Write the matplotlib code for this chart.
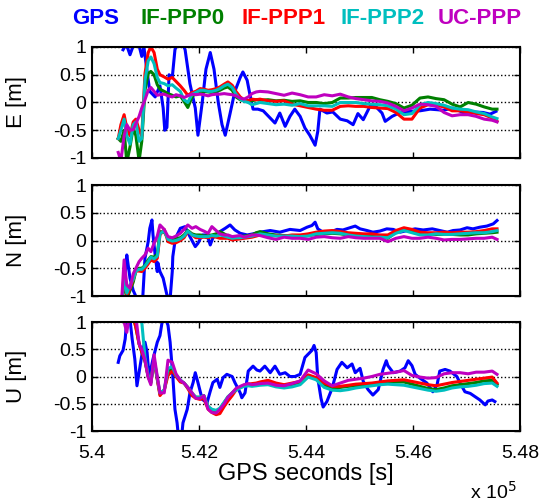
import matplotlib
matplotlib.use("Agg")
import matplotlib.pyplot as plt

plt.rcParams['font.family'] = ['Liberation Sans', 'DejaVu Sans']

# common epochs of the PPP solutions [s]
t_ppp = [540490, 540540, 540600, 540650, 540710, 540770, 540820, 540880, 540930, 540990,
         541050, 541100, 541160, 541220, 541270, 541350, 541420, 541500, 541570, 541650,
         541720, 541790, 541870, 541940, 542020, 542090, 542170, 542240, 542320, 542390,
         542470, 542540, 542620, 542690, 542770, 542840, 542920, 542990, 543070, 543140,
         543290, 543440, 543590, 543740, 543890, 544040, 544190, 544340, 544490, 544640,
         544790, 544930, 545080, 545230, 545380, 545530, 545680, 545830, 545980, 546130,
         546280, 546430, 546580, 546730, 546880, 547030, 547180, 547330, 547480, 547570]

# ---- East ----
e_ppp0 = [-0.65, -0.7, -0.5, -1.08, -0.8, -0.45, -0.6, -1.05, -0.7, 0.22,
          0.52, 0.56, 0.5, 0.32, 0.24, 0.2, 0.16, 0.13, 0.1, 0.12,
          0.02, -0.09, 0.1, 0.18, 0.2, 0.2, 0.19, 0.18, 0.2, 0.22,
          0.26, 0.28, 0.22, 0.1, 0.05, 0.03, 0.03, 0.03, 0.05, 0.04,
          0.05, 0.03, 0.04, 0.02, 0.03, 0.0, 0.0, -0.02, 0.0, 0.08,
          0.08, 0.09, 0.09, 0.09, 0.05, 0.02, -0.02, -0.1, -0.05, 0.08,
          0.1, 0.07, 0.05, -0.03, -0.08, 0.0, -0.03, -0.08, -0.12, -0.12]
e_ppp1 = [-0.65, -0.4, -0.22, -0.46, -0.6, -0.35, -0.3, -0.5, -0.6, 0.52,
          0.9, 1.0, 0.9, 0.6, 0.5, 0.46, 0.42, 0.45, 0.38, 0.3,
          0.22, 0.13, 0.18, 0.2, 0.25, 0.24, 0.22, 0.23, 0.25, 0.28,
          0.33, 0.37, 0.31, 0.2, 0.1, 0.05, 0.03, 0.06, 0.05, 0.06,
          0.03, 0.02, 0.03, -0.03, -0.06, -0.09, -0.12, -0.14, -0.14, -0.07,
          -0.06, -0.07, -0.07, -0.09, -0.1, -0.11, -0.18, -0.3, -0.3, -0.1,
          -0.04, -0.05, -0.08, -0.15, -0.15, -0.17, -0.2, -0.22, -0.28, -0.34]
e_ppp2 = [-0.65, -0.5, -0.3, -0.6, -0.75, -0.4, -0.35, -0.7, -0.65, 0.4,
          0.75, 0.82, 0.7, 0.45, 0.36, 0.34, 0.3, 0.32, 0.26, 0.2,
          0.05, 0.0, 0.15, 0.18, 0.22, 0.22, 0.2, 0.2, 0.22, 0.25,
          0.3, 0.33, 0.27, 0.15, 0.06, 0.02, 0.0, -0.04, -0.02, 0.0,
          -0.02, -0.04, -0.03, -0.05, -0.02, -0.06, -0.06, -0.06, -0.07, 0.0,
          0.0, 0.0, -0.02, -0.03, -0.04, -0.06, -0.12, -0.22, -0.2, -0.04,
          0.0, -0.02, -0.05, -0.1, -0.12, -0.13, -0.17, -0.2, -0.26, -0.29]
e_ucppp = [-0.9, -1.05, -0.6, -0.4, -0.5, -0.49, -0.38, -0.25, -0.1, 0.05,
           0.22, 0.27, 0.2, 0.13, 0.14, 0.15, 0.12, 0.1, 0.14, 0.12,
           0.09, 0.12, 0.15, 0.14, 0.15, 0.14, 0.12, 0.14, 0.15, 0.15,
           0.16, 0.15, 0.14, 0.12, 0.08, 0.06, 0.1, 0.16, 0.19, 0.2,
           0.19, 0.16, 0.13, 0.17, 0.14, 0.1, 0.1, 0.14, 0.12, 0.15,
           0.1, 0.07, 0.05, 0.03, 0.02, -0.01, -0.07, -0.15, -0.1, -0.03,
           -0.04, -0.07, -0.18, -0.24, -0.22, -0.22, -0.25, -0.3, -0.32, -0.35]

t_gps_e = [540580, 540640, 540710, 540770, 540860, 540930, 540970, 541030, 541080, 541180,
           541270, 541330, 541360, 541400, 541440, 541500, 541550, 541610, 541680, 541740,
           541830, 541930, 541980, 542060, 542130, 542210, 542280, 542360, 542430, 542490,
           542580, 542670, 542770, 542820, 542900, 542950, 543010, 543100, 543200, 543330,
           543420, 543510, 543610, 543700, 543790, 543890, 543980, 544070, 544170, 544220,
           544260, 544390, 544500, 544640, 544770, 544880, 544970, 545070, 545200, 545290,
           545420, 545480, 545610, 545760, 545940, 546130, 546320, 546450, 546560, 546750,
           546930, 547120, 547310, 547440, 547550]
e_gps = [0.95, 1.05, 0.86, 1.02, 1.1, 0.83, 1.0, 0.55, 0.2, 0.1,
         0.3, -0.1, -0.5, -0.45, 0.5, 0.45, 0.95, 1.1, 1.1, 0.95,
         0.34, -0.1, -0.59, 0.0, 0.6, 0.9, 0.6, 0.0, -0.4, -0.59,
         -0.2, 0.2, 0.45, 0.55, 0.4, 0.15, -0.12, -0.12, -0.15, -0.28,
         -0.37, -0.19, -0.43, -0.25, -0.12, -0.25, -0.46, -0.59, -0.77, -0.52,
         -0.12, -0.19, -0.17, -0.3, -0.33, -0.4, -0.2, -0.31, -0.06, -0.06,
         -0.19, -0.34, -0.25, -0.18, -0.16, -0.15, -0.12, -0.13, -0.14, -0.1,
         -0.18, -0.17, -0.18, -0.21, -0.16]

# ---- North ----
n_ppp0 = [-1.3, -1.3, -0.7, -1.05, -0.9, -0.75, -0.55, -0.5, -0.5, -0.45,
          -0.35, -0.29, -0.3, -0.25, 0.16, 0.15, 0.05, 0.02, 0.03, 0.05,
          0.1, 0.18, 0.12, 0.1, 0.1, 0.08, 0.09, 0.1, 0.12, 0.16,
          0.12, 0.08, 0.07, 0.07, 0.07, 0.08, 0.09, 0.1, 0.14, 0.16,
          0.12, 0.1, 0.09, 0.08, 0.07, 0.09, 0.11, 0.12, 0.13, 0.12,
          0.1, 0.1, 0.1, 0.09, 0.08, 0.04, 0.15, 0.2, 0.16, 0.13,
          0.12, 0.11, 0.11, 0.11, 0.1, 0.1, 0.12, 0.13, 0.14, 0.15]
n_ppp1 = [-1.3, -1.3, -0.6, -1.0, -0.86, -0.7, -0.55, -0.55, -0.56, -0.5,
          -0.42, -0.35, -0.38, -0.32, 0.1, 0.2, -0.02, -0.05, -0.04, 0.0,
          0.05, 0.16, 0.1, 0.05, 0.05, 0.06, 0.05, 0.07, 0.06, 0.04,
          0.04, 0.04, 0.01, 0.02, 0.03, 0.04, 0.05, 0.06, 0.08, 0.1,
          0.09, 0.09, 0.08, 0.1, 0.1, 0.12, 0.15, 0.17, 0.18, 0.16,
          0.14, 0.13, 0.12, 0.12, 0.1, 0.1, 0.18, 0.23, 0.2, 0.15,
          0.14, 0.14, 0.15, 0.14, 0.15, 0.15, 0.16, 0.18, 0.21, 0.21]
n_ppp2 = [-1.3, -1.3, -0.65, -0.95, -0.8, -0.7, -0.55, -0.52, -0.52, -0.46,
          -0.38, -0.3, -0.33, -0.28, 0.12, 0.18, 0.02, -0.01, 0.0, 0.03,
          0.08, 0.17, 0.1, 0.08, 0.07, 0.07, 0.07, 0.09, 0.08, 0.1,
          0.08, 0.06, 0.04, 0.05, 0.05, 0.06, 0.07, 0.08, 0.1, 0.12,
          0.1, 0.08, 0.08, 0.08, 0.07, 0.08, 0.12, 0.13, 0.14, 0.13,
          0.1, 0.08, 0.07, 0.06, 0.06, 0.05, 0.13, 0.18, 0.14, 0.1,
          0.1, 0.12, 0.11, 0.11, 0.12, 0.13, 0.14, 0.14, 0.16, 0.18]
n_ucppp = [-1.3, -1.3, -0.35, -0.8, -0.86, -0.6, -0.5, -0.38, -0.32, -0.26,
           -0.14, -0.2, -0.05, 0.08, 0.28, 0.2, 0.07, 0.05, 0.08, 0.13,
           0.2, 0.28, 0.22, 0.25, 0.2, 0.17, 0.13, 0.25, 0.18, 0.12,
           0.1, 0.1, 0.07, 0.08, 0.09, 0.06, 0.08, 0.1, 0.1, 0.09,
           0.05, 0.02, 0.06, 0.04, 0.04, 0.02, 0.06, 0.07, 0.05, 0.04,
           0.07, 0.05, 0.04, 0.04, 0.04, -0.02, 0.04, 0.07, 0.04, 0.04,
           0.06, 0.04, 0.01, 0.02, 0.02, 0.03, 0.04, 0.04, 0.06, 0.02]

t_gps_n = [540620, 540650, 540670, 540710, 540770, 540840, 540900, 540950, 540990, 541050,
           541080, 541120, 541140, 541180, 541220, 541230, 541270, 541330, 541400, 541460,
           541500, 541510, 541550, 541590, 541650, 541740, 541830, 541930, 541980, 542060,
           542150, 542210, 542260, 542390, 542490, 542580, 542670, 542770, 542900, 543010,
           543140, 543330, 543510, 543700, 543890, 544020, 544110, 544170, 544220, 544320,
           544450, 544580, 544690, 544820, 544920, 545010, 545140, 545250, 545380, 545510,
           545630, 545760, 545890, 546040, 546190, 546360, 546500, 546640, 546750, 546880,
           547010, 547120, 547250, 547380, 547500, 547570]
n_gps = [-0.6, -0.26, -0.4, -0.68, -0.9, -1.05, -1.05, -1.0, -0.32, -0.02,
         0.22, 0.37, 0.1, -0.26, -0.56, -0.4, -0.56, -0.68, -0.98, -1.05,
         -0.56, -0.29, -0.02, 0.1, 0.22, 0.25, 0.07, -0.11, -0.05, 0.1,
         0.1, -0.08, 0.05, 0.16, 0.22, 0.28, 0.19, 0.13, 0.1, 0.12,
         0.15, 0.18, 0.15, 0.2, 0.18, 0.24, 0.27, 0.33, 0.21, 0.15,
         0.15, 0.2, 0.19, 0.23, 0.26, 0.21, 0.18, 0.15, 0.17, 0.21,
         0.2, 0.15, 0.18, 0.21, 0.19, 0.21, 0.18, 0.15, 0.18, 0.19,
         0.23, 0.21, 0.24, 0.26, 0.3, 0.36]

# ---- Up ----
u_ppp0 = [1.3, 1.3, 1.2, 1.1, 1.2, 1.1, 0.9, 0.6, 0.45, 0.28,
          0.0, -0.12, 0.3, -0.05, -0.32, -0.25, 0.1, 0.15, 0.02, -0.08,
          -0.12, -0.2, -0.32, -0.38, -0.38, -0.35, -0.55, -0.62, -0.64, -0.6,
          -0.48, -0.38, -0.3, -0.24, -0.2, -0.17, -0.15, -0.16, -0.15, -0.14,
          -0.12, -0.17, -0.19, -0.16, -0.12, 0.02, -0.04, -0.15, -0.21, -0.2,
          -0.18, -0.17, -0.16, -0.14, -0.12, -0.1, -0.1, -0.1, -0.14, -0.18,
          -0.22, -0.24, -0.21, -0.17, -0.15, -0.13, -0.11, -0.08, -0.07, -0.15]
u_ppp1 = [1.3, 1.3, 1.2, 1.1, 1.2, 1.1, 0.9, 0.6, 0.45, 0.3,
          0.0, -0.1, 0.3, -0.05, -0.35, -0.25, 0.02, 0.1, 0.0, -0.1,
          -0.12, -0.22, -0.35, -0.4, -0.42, -0.4, -0.6, -0.66, -0.7, -0.68,
          -0.55, -0.45, -0.35, -0.25, -0.2, -0.16, -0.14, -0.13, -0.12, -0.1,
          -0.07, -0.12, -0.15, -0.12, -0.09, 0.03, -0.02, -0.12, -0.18, -0.18,
          -0.16, -0.14, -0.13, -0.12, -0.1, -0.08, -0.07, -0.06, -0.09, -0.12,
          -0.15, -0.17, -0.14, -0.11, -0.09, -0.07, -0.05, -0.03, -0.01, -0.12]
u_ppp2 = [1.3, 1.3, 1.2, 1.1, 1.2, 1.15, 1.0, 1.05, 1.0, 0.35,
          0.02, -0.1, 0.32, -0.02, -0.3, -0.25, 0.15, 0.18, 0.03, -0.06,
          -0.12, -0.2, -0.3, -0.38, -0.38, -0.35, -0.55, -0.6, -0.62, -0.58,
          -0.47, -0.37, -0.3, -0.25, -0.21, -0.18, -0.17, -0.18, -0.17, -0.16,
          -0.15, -0.19, -0.21, -0.19, -0.15, -0.01, -0.06, -0.2, -0.25, -0.26,
          -0.24, -0.21, -0.19, -0.17, -0.15, -0.14, -0.15, -0.16, -0.19, -0.22,
          -0.25, -0.27, -0.25, -0.21, -0.19, -0.18, -0.16, -0.13, -0.12, -0.18]
u_ucppp = [1.3, 1.3, 1.0, 0.81, 1.2, 1.2, 1.1, 0.6, 0.5, 0.3,
           -0.02, -0.15, 0.4, 0.0, -0.3, -0.3, 0.3, 0.26, 0.05, -0.07,
           -0.12, -0.2, -0.3, -0.4, -0.4, -0.35, -0.6, -0.66, -0.67, -0.6,
           -0.5, -0.38, -0.3, -0.22, -0.18, -0.15, -0.13, -0.15, -0.14, -0.13,
           -0.12, -0.16, -0.17, -0.13, -0.08, 0.12, 0.05, -0.08, -0.17, -0.12,
           -0.07, -0.05, -0.03, 0.0, 0.04, 0.06, 0.08, 0.11, 0.02, -0.01,
           -0.03, -0.02, 0.05, 0.07, 0.07, 0.05, 0.08, 0.08, 0.1, 0.04]

t_gps_u = [540490, 540520, 540580, 540620, 540650, 540710, 540750, 540800, 540840, 540900,
           540950, 540990, 541030, 541050, 541080, 541140, 541220, 541270, 541310, 541360,
           541420, 541460, 541510, 541550, 541590, 541610, 541680, 541700, 541780, 541830,
           541890, 541930, 541980, 542060, 542150, 542210, 542260, 542340, 542390, 542450,
           542520, 542620, 542670, 542770, 542800, 542860, 542920, 543010, 543080, 543140,
           543230, 543330, 543420, 543510, 543610, 543700, 543790, 543890, 543980, 544040,
           544110, 544150, 544190, 544220, 544280, 544320, 544390, 544490, 544580, 544670,
           544770, 544860, 544920, 545010, 545070, 545160, 545250, 545350, 545440, 545500,
           545530, 545630, 545760, 545850, 545910, 545980, 546040, 546130, 546260, 546370,
           546450, 546500, 546600, 546690, 546820, 546880, 546970, 547070, 547160, 547250,
           547350, 547400, 547480, 547530]
u_gps = [0.26, 0.38, 0.48, 0.69, 1.05, 1.05, 0.69, 0.32, -0.17, 0.2,
         0.51, 0.63, 0.44, 0.2, 0.05, 0.32, 0.63, 0.75, 1.0, 1.1,
         0.94, 0.63, 0.01, -0.6, -0.85, -1.05, -1.05, -0.85, -0.6, -0.3,
         -0.11, 0.07, -0.11, -0.42, -0.48, -0.27, -0.11, -0.05, -0.2, -0.02,
         0.04, 0.0, -0.11, -0.3, -0.39, -0.3, 0.1, 0.19, 0.12, 0.1,
         0.19, 0.07, 0.19, 0.04, 0.07, 0.0, 0.0, 0.04, 0.35, 0.41,
         0.48, 0.57, 0.44, -0.03, -0.4, -0.56, -0.46, -0.21, 0.13, 0.26,
         0.16, 0.23, 0.07, 0.15, -0.09, -0.24, -0.34, -0.24, 0.13, 0.29,
         0.2, 0.07, 0.1, 0.16, 0.29, 0.2, 0.04, -0.03, -0.12, -0.28,
         -0.15, 0.1, 0.13, 0.1, 0.0, -0.12, -0.28, -0.31, -0.37, -0.43,
         -0.52, -0.45, -0.43, -0.46]

names = ['GPS', 'IF-PPP0', 'IF-PPP1', 'IF-PPP2', 'UC-PPP']
colors = ['#0000ff', '#008000', '#ff0000', '#00bfbf', '#bf00bf']
ylabels = ['E [m]', 'N [m]', 'U [m]']
xticks = [540000, 542000, 544000, 546000, 548000]
xtick_labels = ['5.4', '5.42', '5.44', '5.46', '5.48']
yticks = [-1, -0.5, 0, 0.5, 1]
ytick_labels = ['-1', '-0.5', '0', '0.5', '1']

panels = [
    (t_gps_e, e_gps, [e_ppp0, e_ppp1, e_ppp2, e_ucppp]),
    (t_gps_n, n_gps, [n_ppp0, n_ppp1, n_ppp2, n_ucppp]),
    (t_gps_u, u_gps, [u_ppp0, u_ppp1, u_ppp2, u_ucppp]),
]
boxes = [[0.1704, 0.6859, 0.7926, 0.2207],
         [0.1704, 0.4115, 0.7926, 0.2207],
         [0.1704, 0.1431, 0.7926, 0.2167]]

fig = plt.figure(figsize=(5.4, 5.03), dpi=100)

for k in range(3):
    ax = fig.add_axes(boxes[k])
    tg, gps, ppp = panels[k]
    ax.plot(tg, gps, color=colors[0], lw=2.2)
    for j in range(4):
        ax.plot(t_ppp, ppp[j], color=colors[j + 1], lw=2.2)
    ax.set_xlim(540000, 548000)
    ax.set_ylim(-1, 1)
    ax.set_xticks(xticks)
    ax.set_yticks(yticks)
    ax.set_yticklabels(ytick_labels, fontsize=14)
    if k == 2:
        ax.set_xticklabels(xtick_labels, fontsize=14)
        ax.set_xlabel('GPS seconds [s]', fontsize=17, labelpad=1)
    else:
        ax.set_xticklabels([])
    ax.set_ylabel(ylabels[k], fontsize=16)
    ax.yaxis.set_label_coords(-0.152, 0.5)
    ax.tick_params(direction='in', length=4, width=1, top=True, right=True)
    ax.tick_params(axis='y', pad=4)
    ax.tick_params(axis='x', pad=10)
    ax.grid(axis='y', color='black', linestyle=':', linewidth=1)
    for s in ax.spines.values():
        s.set_linewidth(1.5)

# legend as coloured titles across the top
xpos = [96, 183, 284, 383, 480]
for j in range(5):
    fig.text(xpos[j] / 540, 1 - 18 / 503, names[j], color=colors[j],
             fontsize=16, fontweight='bold', ha='center', va='center')

fig.text(470 / 540, 1 - 492 / 503, 'x 10$^5$', fontsize=14, ha='left', va='center')

fig.savefig('out.png', dpi=100)
